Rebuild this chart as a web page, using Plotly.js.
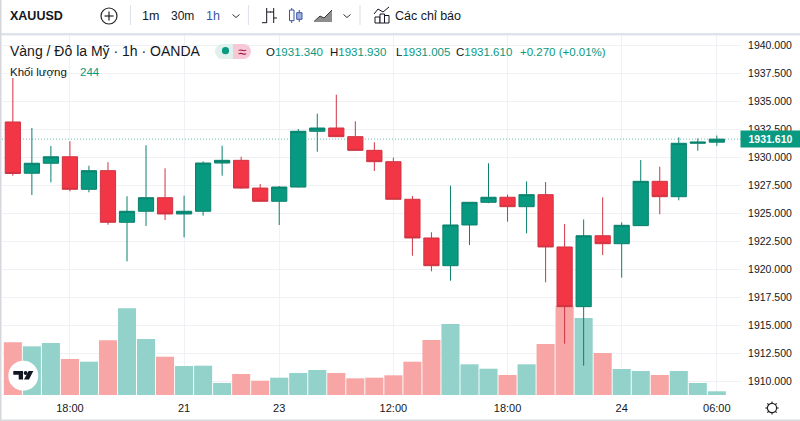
<!DOCTYPE html>
<html><head><meta charset="utf-8">
<script src="https://cdn.plot.ly/plotly-3.0.1.min.js"></script>
<style>html,body{margin:0;padding:0;background:#fff;overflow:hidden}</style></head>
<body><div id="chart" style="width:800px;height:421px"></div>
<script>
const candleIndex = [0,1,2,3,4,5,6,7,8,9,10,11,12,13,14,15,16,17,18,19,20,21,22,23,24,25,26,27,28,29,30,31,32,33,34,35,36,37];
const openPrices = [1933.14,1928.57,1929.46,1930.04,1927.14,1928.80,1924.20,1925.18,1926.39,1924.94,1925.18,1929.48,1929.72,1927.25,1926.07,1927.34,1932.31,1932.60,1931.83,1930.61,1929.60,1926.25,1922.80,1920.33,1923.96,1925.98,1926.43,1925.59,1926.66,1922.00,1916.68,1923.00,1922.29,1923.90,1927.85,1926.48,1931.24,1931.34];
const highPrices = [1937.06,1932.60,1931.00,1931.42,1929.24,1929.55,1926.52,1931.06,1929.01,1926.57,1929.63,1931.02,1930.04,1927.61,1927.43,1932.51,1933.88,1935.57,1933.20,1931.33,1929.96,1926.54,1923.31,1927.46,1926.00,1929.46,1926.66,1927.85,1927.79,1924.05,1924.45,1926.43,1924.20,1929.75,1929.15,1931.77,1931.68,1931.93];
const lowPrices = [1928.35,1926.63,1927.76,1926.96,1926.87,1923.98,1920.72,1923.87,1924.40,1922.86,1924.79,1928.35,1927.20,1926.03,1923.96,1927.30,1930.49,1931.80,1930.58,1928.77,1926.23,1921.22,1919.83,1918.99,1922.17,1925.90,1924.25,1923.22,1918.85,1913.38,1911.42,1921.28,1919.26,1923.88,1924.91,1926.16,1930.58,1931.005];
const closePrices = [1928.55,1929.46,1930.04,1927.14,1928.80,1924.20,1925.18,1926.39,1924.94,1925.18,1929.48,1929.72,1927.25,1926.07,1927.34,1932.31,1932.60,1931.83,1930.61,1929.60,1926.25,1922.80,1920.33,1923.96,1925.98,1926.43,1925.59,1926.66,1922.00,1916.68,1923.00,1922.29,1923.93,1927.85,1926.48,1931.24,1931.35,1931.61];
const volumes = [3478,3214,3432,2376,2198,3610,5722,3696,2528,1914,1934,792,1386,944,1142,1452,1650,1452,1102,1142,1300,2198,3630,4686,2026,1736,1320,2026,3366,5894,5082,2772,1716,1584,1320,1584,792,244];
const timeTickIndex = [3,9,14,20,26,32,37];
const timeTickLabels = ['18:00','21','23','12:00','18:00','24','06:00'];

const W=800,H=421,mL=2,mR=59,mT=34,mB=26,pw=W-mL-mR,ph=H-mT-mB;
const GREEN='#089981',RED='#F23645',INK='#131722',GRID='#eff1f5',BLUE='#3a56a8',SEP='#e0e3eb';
const fx=x=>(x-mL)/pw, fy=y=>1-(y-mT)/ph;
const base={xref:'paper',yref:'paper'};
const line=(x0,y0,x1,y1,c=INK,w=1)=>({...base,type:'line',x0:fx(x0),y0:fy(y0),x1:fx(x1),y1:fy(y1),line:{color:c,width:w}});
const rect=(x0,y0,x1,y1,fill,c,w=1)=>({...base,type:'rect',x0:fx(x0),y0:fy(y0),x1:fx(x1),y1:fy(y1),fillcolor:fill,line:{color:c||'rgba(0,0,0,0)',width:c?w:0}});
const circ=(x,y,r,fill,c,w=1)=>({...base,type:'circle',x0:fx(x-r),y0:fy(y-r),x1:fx(x+r),y1:fy(y+r),fillcolor:fill,line:{color:c||'rgba(0,0,0,0)',width:c?w:0}});
const poly=(pts,fill,c,w=1,closed=true)=>({...base,type:'path',path:pts.map((p,i)=>(i?'L':'M')+fx(p[0])+','+fy(p[1])).join('')+(closed?'Z':''),fillcolor:fill||'rgba(0,0,0,0)',line:{color:c||'rgba(0,0,0,0)',width:c?w:0}});
const txt=(x,y,text,size,color,extra={})=>({...base,x:fx(x),y:fy(y),text,showarrow:false,xanchor:'left',yanchor:'middle',font:{size,color,family:'"Liberation Sans",Arial,sans-serif'},borderpad:0,...extra});
const chev=(x,y)=>poly([[x-3.5,y-1.5],[x,y+1.5],[x+3.5,y-1.5]],null,'#333',1,false);

const shapes=[
 {type:'line',xref:'paper',yref:'y2',x0:0,x1:1,y0:closePrices[37],y1:closePrices[37],layer:'below',opacity:0.75,line:{color:GREEN,width:0.8,dash:'1px,2px'}},
 rect(0,33,800,35.5,SEP), rect(0,0,1.5,421,'#d5d7dc'), rect(0,419.5,800,421,'#d8dade'),
 circ(109,16,8,'#fff','#222',1.2), line(104.5,16,113.5,16,'#222',1.2), line(109,11.5,109,20.5,'#222',1.2),
 line(130.5,5,130.5,25,SEP,1.2), line(248.5,5,248.5,25,SEP,1.2), line(360,5,360,25,SEP,1.2),
 chev(236,16), chev(347,16),
 line(266.7,8,266.7,23), line(262,22.7,266.7,22.7), line(266.7,12,271,12),
 line(273.7,8,273.7,23), line(270,12,273.7,12), line(273.7,18,277,18),
 line(291.7,8,291.7,23,BLUE), rect(289.5,10,294,20.7,'#fff',BLUE), 
 line(299.3,10,299.3,22,BLUE), rect(296.7,12.7,302,19.3,'#9fb0dd',BLUE),
 poly([[314,22],[320,16],[324,18],[332,10],[332,22]],'#8d8d8d'), poly([[314,21.5],[320,16],[324,18],[332,10]],null,'#333',1,false),
 rect(375,17,380,23,'#fff',INK), rect(380,14,384.5,23,'#fff',INK), rect(384.5,15.5,389,23,'#fff',INK),
 poly([[374,14],[378,9],[383,12],[389,7]],null,INK,1,false),
 circ(222.5,51.5,7.5,'#dff0ed'), rect(222.5,44,233,59,'#dff0ed'),
 circ(243.5,51.5,7.5,'#f7c9d6'), rect(233,44,243.5,59,'#f7c9d6'),
 circ(225.5,50.7,3.6,GREEN),
 circ(23.3,375.7,15,'#fff'),
 poly([[13.3,371],[23,371],[23,379.5],[18.7,379.5],[18.7,374.7],[13.3,374.7]],'#131722'),
 circ(25.6,373,1.9,'#131722'),
 poly([[28.5,371],[33.3,371],[29,379.5],[24,379.5]],'#131722'),
 circ(772,408,4.6,'#fff','#222',1.2)
];
[[0,-1],[0.707,-0.707],[1,0],[0.707,0.707],[0,1],[-0.707,0.707],[-1,0],[-0.707,-0.707]].forEach(d=>
  shapes.push(line(772+d[0]*4.6,408+d[1]*4.6,772+d[0]*6.6,408+d[1]*6.6,'#222',1.1)));

const g=s=>'<span style="color:'+GREEN+'">'+s+'</span>';
const annotations=[
 txt(9,16,'<b>XAUUSD</b>',12.5,INK),
 txt(141,16,'1m',12.5,INK), txt(170,16,'30m',12,INK), txt(205,16,'1h',12.5,BLUE),
 txt(394,16,'Các chỉ báo',12.5,INK),
 txt(9,51,'Vàng / Đô la Mỹ · 1h · OANDA',14,INK),
 txt(241.5,51,'≈',15,'#a3154a',{xanchor:'center'}),
 txt(265,52,'O'+g('1931.340'),11.5,INK),
 txt(329,52,'H'+g('1931.930'),11.5,INK),
 txt(395.5,52,'L'+g('1931.005'),11.5,INK),
 txt(455,52,'C'+g('1931.610'),11.5,INK),
 txt(519,52,g('+0.270 (+0.01%)'),11.5,INK),
 txt(9,72,'Khối lượng',11.5,INK),
 txt(79,72,'244',11.5,GREEN),
 {xref:'paper',yref:'y2',x:fx(740),y:closePrices[37],xanchor:'left',yanchor:'middle',text:'<b>1931.610</b>',showarrow:false,
  width:59,height:15.6,bgcolor:GREEN,font:{size:10.5,color:'#fff',family:'"Liberation Sans",Arial,sans-serif'},borderpad:0,align:'center'}
];

Plotly.newPlot('chart',[
 {type:'bar',x:candleIndex,y:volumes,yaxis:'y',hoverinfo:'skip',
  marker:{color:candleIndex.map(i=>closePrices[i]>=openPrices[i]?'#92d2cb':'#f7a5a5'),line:{width:0}}},
 {type:'candlestick',x:candleIndex,open:openPrices,high:highPrices,low:lowPrices,close:closePrices,yaxis:'y2',hoverinfo:'skip',
  increasing:{line:{color:'#0a806c',width:1},fillcolor:GREEN},
  decreasing:{line:{color:'#cf3442',width:1},fillcolor:RED},whiskerwidth:0}
],{
 width:W,height:H,margin:{l:mL,r:mR,t:mT,b:mB,pad:0},paper_bgcolor:'#fff',plot_bgcolor:'#fff',
 showlegend:false,hovermode:false,bargap:0.05,boxgap:0,boxgroupgap:0.2,
 font:{family:'"Liberation Sans",Arial,sans-serif',color:INK,size:12},
 xaxis:{range:[-0.57,38.27],rangeslider:{visible:false},tickvals:timeTickIndex,ticktext:timeTickLabels,showgrid:true,gridcolor:GRID,zeroline:false,showline:false,ticks:'outside',ticklen:3,tickcolor:'rgba(0,0,0,0)',tickfont:{size:11,color:INK}},
 yaxis:{range:[0,23826],visible:false,fixedrange:true},
 yaxis2:{overlaying:'y',side:'right',anchor:'x',range:[1908.806,1940.98],tick0:1910,dtick:2.5,tickformat:'.3f',showgrid:true,gridcolor:GRID,zeroline:false,showline:false,ticks:'outside',ticklen:4,tickcolor:'rgba(0,0,0,0)',tickfont:{size:10.5,color:INK}},
 shapes,annotations
},{displayModeBar:false,staticPlot:true});
</script></body></html>
